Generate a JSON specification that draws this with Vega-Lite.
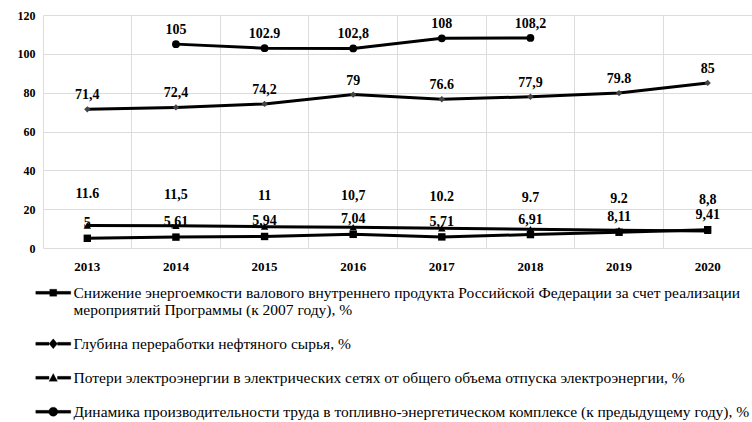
{
  "$schema": "https://vega.github.io/schema/vega-lite/v6.json",
  "width": 709,
  "height": 233,
  "autosize": {"type": "none"},
  "padding": {"left": 43, "top": 15, "right": 0, "bottom": 174},
  "background": "white",
  "config": {
    "view": {"stroke": null},
    "font": "Liberation Serif",
    "axis": {"labelFont": "Liberation Serif", "labelColor": "black", "labelFontWeight": "bold", "gridColor": "#dcdcdc", "gridWidth": 1, "domain": false, "ticks": false, "title": null}
  },
  "data": {
    "values": [
      {"year": "2013", "key": "s1", "series": "Снижение", "value": 5, "label": "5"},
      {"year": "2014", "key": "s1", "series": "Снижение", "value": 5.61, "label": "5,61"},
      {"year": "2015", "key": "s1", "series": "Снижение", "value": 5.94, "label": "5,94"},
      {"year": "2016", "key": "s1", "series": "Снижение", "value": 7.04, "label": "7,04"},
      {"year": "2017", "key": "s1", "series": "Снижение", "value": 5.71, "label": "5,71"},
      {"year": "2018", "key": "s1", "series": "Снижение", "value": 6.91, "label": "6,91"},
      {"year": "2019", "key": "s1", "series": "Снижение", "value": 8.11, "label": "8,11"},
      {"year": "2020", "key": "s1", "series": "Снижение", "value": 9.41, "label": "9,41"},
      {"year": "2013", "key": "s2", "series": "Глубина переработки нефтяного сырья, %", "value": 71.4, "label": "71,4"},
      {"year": "2014", "key": "s2", "series": "Глубина переработки нефтяного сырья, %", "value": 72.4, "label": "72,4"},
      {"year": "2015", "key": "s2", "series": "Глубина переработки нефтяного сырья, %", "value": 74.2, "label": "74,2"},
      {"year": "2016", "key": "s2", "series": "Глубина переработки нефтяного сырья, %", "value": 79, "label": "79"},
      {"year": "2017", "key": "s2", "series": "Глубина переработки нефтяного сырья, %", "value": 76.6, "label": "76.6"},
      {"year": "2018", "key": "s2", "series": "Глубина переработки нефтяного сырья, %", "value": 77.9, "label": "77,9"},
      {"year": "2019", "key": "s2", "series": "Глубина переработки нефтяного сырья, %", "value": 79.8, "label": "79.8"},
      {"year": "2020", "key": "s2", "series": "Глубина переработки нефтяного сырья, %", "value": 85, "label": "85"},
      {"year": "2013", "key": "s3", "series": "Потери электроэнергии в электрических сетях от общего объема отпуска электроэнергии, %", "value": 11.6, "label": "11.6"},
      {"year": "2014", "key": "s3", "series": "Потери электроэнергии в электрических сетях от общего объема отпуска электроэнергии, %", "value": 11.5, "label": "11,5"},
      {"year": "2015", "key": "s3", "series": "Потери электроэнергии в электрических сетях от общего объема отпуска электроэнергии, %", "value": 11, "label": "11"},
      {"year": "2016", "key": "s3", "series": "Потери электроэнергии в электрических сетях от общего объема отпуска электроэнергии, %", "value": 10.7, "label": "10,7"},
      {"year": "2017", "key": "s3", "series": "Потери электроэнергии в электрических сетях от общего объема отпуска электроэнергии, %", "value": 10.2, "label": "10.2"},
      {"year": "2018", "key": "s3", "series": "Потери электроэнергии в электрических сетях от общего объема отпуска электроэнергии, %", "value": 9.7, "label": "9.7"},
      {"year": "2019", "key": "s3", "series": "Потери электроэнергии в электрических сетях от общего объема отпуска электроэнергии, %", "value": 9.2, "label": "9.2"},
      {"year": "2020", "key": "s3", "series": "Потери электроэнергии в электрических сетях от общего объема отпуска электроэнергии, %", "value": 8.8, "label": "8,8"},
      {"year": "2014", "key": "s4", "series": "Динамика производительности труда в топливно-энергетическом комплексе (к предыдущему году), %", "value": 105, "label": "105"},
      {"year": "2015", "key": "s4", "series": "Динамика производительности труда в топливно-энергетическом комплексе (к предыдущему году), %", "value": 102.9, "label": "102.9"},
      {"year": "2016", "key": "s4", "series": "Динамика производительности труда в топливно-энергетическом комплексе (к предыдущему году), %", "value": 102.8, "label": "102,8"},
      {"year": "2017", "key": "s4", "series": "Динамика производительности труда в топливно-энергетическом комплексе (к предыдущему году), %", "value": 108, "label": "108"},
      {"year": "2018", "key": "s4", "series": "Динамика производительности труда в топливно-энергетическом комплексе (к предыдущему году), %", "value": 108.2, "label": "108,2"}
    ]
  },
  "encoding": {
    "x": {
      "field": "year", "type": "ordinal",
      "scale": {"type": "band", "paddingInner": 0, "paddingOuter": 0},
      "axis": {"labelAngle": 0, "labelFontSize": 13, "labelPadding": 12, "grid": true, "bandPosition": 0, "labelBound": false}
    },
    "y": {
      "field": "value", "type": "quantitative",
      "scale": {"domain": [0, 120], "nice": false},
      "axis": {"values": [0, 20, 40, 60, 80, 100, 120], "labelFontSize": 12, "labelPadding": 8, "grid": true}
    }
  },
  "layer": [
    {
      "mark": {"type": "line", "strokeWidth": 3},
      "encoding": {
        "color": {
          "field": "series", "type": "nominal",
          "scale": {
            "domain": ["Снижение", "Глубина переработки нефтяного сырья, %", "Потери электроэнергии в электрических сетях от общего объема отпуска электроэнергии, %", "Динамика производительности труда в топливно-энергетическом комплексе (к предыдущему году), %"],
            "range": ["black", "black", "black", "black"]
          },
          "legend": {
            "orient": "none",
            "legendX": 2.5,
            "legendY": 270,
            "direction": "vertical",
            "title": null,
            "padding": 0,
            "symbolSize": 196,
            "labelOffset": 12.5,
            "labelFont": "Liberation Serif",
            "labelFontSize": 15.5,
            "labelColor": "black",
            "labelLimit": 745,
            "rowPadding": 17,
            "labelExpr": "datum.label == 'Снижение' ? ['Снижение энергоемкости валового внутреннего продукта Российской Федерации за счет реализации', 'мероприятий Программы (к 2007 году), %'] : datum.label",
            "encode": {
              "symbols": {
                "update": {
                  "shape": {"signal": "datum.value == 'Снижение' ? 'M-2.5,-0.2H-0.5V0.2H-2.5Z M0.5,-0.2H2.5V0.2H0.5Z M-0.5,-0.5H0.5V0.5H-0.5Z' : datum.value == 'Глубина переработки нефтяного сырья, %' ? 'M-2.5,-0.2H-0.6V0.2H-2.5Z M0.6,-0.2H2.5V0.2H0.6Z M0,-0.7L0.6,0L0,0.7L-0.6,0Z' : datum.value == 'Потери электроэнергии в электрических сетях от общего объема отпуска электроэнергии, %' ? 'M-2.5,-0.2H-0.6V0.2H-2.5Z M0.6,-0.2H2.5V0.2H0.6Z M0,-0.6L0.6,0.5H-0.6Z' : 'M-2.5,-0.2H-0.6V0.2H-2.5Z M0.6,-0.2H2.5V0.2H0.6Z M-0.65,0A0.65,0.65,0,1,1,0.65,0A0.65,0.65,0,1,1,-0.65,0Z'"},
                  "fill": {"value": "black"},
                  "stroke": {"value": "black"},
                  "strokeWidth": {"value": 0.3},
                  "opacity": {"value": 1}
                }
              }
            }
          }
        }
      }
    },
    {
      "transform": [{"filter": "datum.key == 's1'"}],
      "mark": {"type": "point", "filled": true, "opacity": 1, "size": 55, "shape": "square", "color": "black"}
    },
    {
      "transform": [{"filter": "datum.key == 's2'"}],
      "mark": {"type": "point", "filled": true, "opacity": 1, "size": 40, "shape": "diamond", "color": "#444444"}
    },
    {
      "transform": [{"filter": "datum.key == 's3'"}],
      "mark": {"type": "point", "filled": true, "opacity": 1, "size": 55, "shape": "triangle-up", "color": "black"}
    },
    {
      "transform": [{"filter": "datum.key == 's4'"}],
      "mark": {"type": "point", "filled": true, "opacity": 1, "size": 60, "shape": "circle", "color": "black"}
    },
    {
      "transform": [{"filter": "datum.key == 's2' || datum.key == 's4'"}],
      "mark": {"type": "text", "dy": -14, "font": "Liberation Serif", "fontWeight": "bold", "fontSize": 14, "color": "black", "baseline": "middle"},
      "encoding": {"text": {"field": "label"}}
    },
    {
      "transform": [{"filter": "datum.key == 's3'"}],
      "mark": {"type": "text", "dy": -31, "font": "Liberation Serif", "fontWeight": "bold", "fontSize": 14, "color": "black", "baseline": "middle"},
      "encoding": {"text": {"field": "label"}}
    },
    {
      "transform": [{"filter": "datum.key == 's1'"}],
      "mark": {"type": "text", "dy": -15, "font": "Liberation Serif", "fontWeight": "bold", "fontSize": 14, "color": "black", "baseline": "middle"},
      "encoding": {"text": {"field": "label"}}
    }
  ]
}
